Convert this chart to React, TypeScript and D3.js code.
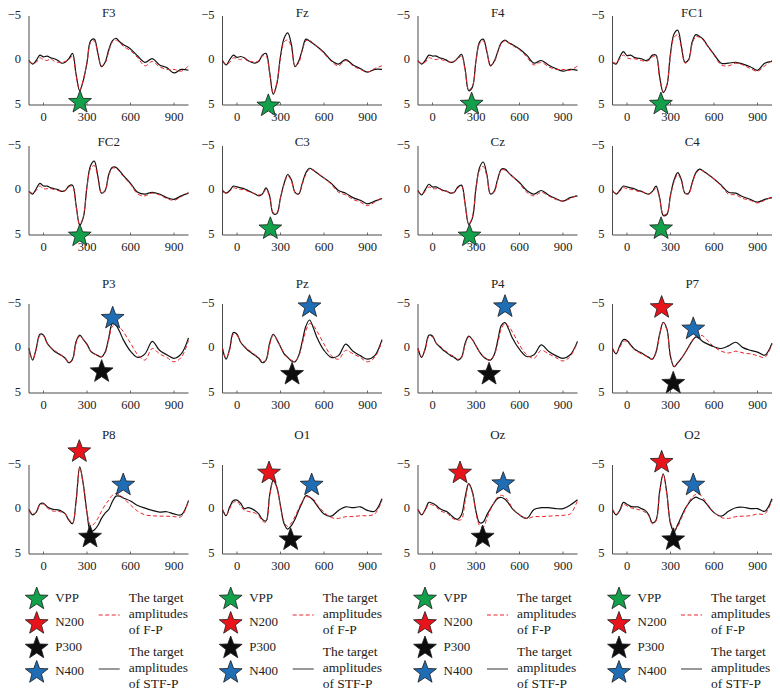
import React from 'react';
import * as d3 from 'd3';

const TIMES = [-100,-75,-50,-25,0,25,50,75,100,125,150,175,200,225,250,275,300,325,350,375,400,425,450,475,500,525,550,600,650,700,750,800,850,900,950,1000];
const CHANNELS = ['F3','Fz','F4','FC1','FC2','C3','Cz','C4','P3','Pz','P4','P7','P8','O1','Oz','O2'];
const X_TICKS = [0, 300, 600, 900];
const Y_TICKS = [-5, 0, 5];
const COMPONENTS = ['VPP', 'N200', 'P300', 'N400'];
const COMPONENT_COLORS = ['#12a04b', '#e8141b', '#0d0d0d', '#1e6db5'];
const LEGEND_FP = ['The target', 'amplitudes', 'of F-P'];
const LEGEND_STF = ['The target', 'amplitudes', 'of STF-P'];

// STF-P (black solid) and F-P (red dashed) target amplitudes, µV
const F3_STF = [0.0,0.4,0.0,-0.6,-0.4,-0.5,-0.3,-0.2,0.0,0.3,0.2,-0.2,-0.8,1.6,3.4,2.2,0.2,-2.2,-2.4,-0.8,0.7,0.2,-1.2,-2.2,-2.5,-2.1,-1.8,-1.3,-0.5,0.2,-0.2,0.5,0.8,1.4,1.0,1.1];
const F3_FP = [0.1,0.3,0.2,-0.3,-0.1,0.0,-0.2,0.1,0.2,0.2,0.1,-0.1,-0.5,1.7,3.3,2.1,0.3,-2.0,-2.2,-0.8,0.6,0.3,-1.0,-2.1,-2.3,-2.0,-1.6,-1.1,-0.3,0.6,0.1,0.7,1.0,1.0,1.2,0.6];
const FZ_STF = [0.0,0.5,-0.1,-0.6,-0.35,-0.45,-0.3,0.0,0.2,0.3,0.1,-0.6,-0.8,1.3,3.8,2.6,-0.5,-2.5,-3.1,-1.8,0.7,0.1,-1.2,-2.4,-2.2,-1.9,-1.6,-0.9,0.0,0.4,-0.1,0.5,0.9,1.3,1.0,1.0];
const FZ_FP = [0.1,0.4,0.2,-0.3,-0.2,-0.1,-0.3,0.1,0.1,0.2,0.0,-0.5,-0.5,1.4,3.7,2.5,-0.3,-2.1,-2.3,-1.5,0.6,0.3,-1.1,-2.2,-2.3,-1.9,-1.6,-0.8,0.1,0.6,0.0,0.6,1.0,1.3,0.9,0.6];
const F4_STF = [0.0,0.4,0.0,-0.6,-0.5,-0.5,-0.3,-0.2,0.0,0.2,0.1,-0.3,-0.7,1.0,3.4,3.0,0.0,-2.1,-2.4,-1.0,0.6,0.1,-1.0,-2.0,-2.3,-2.0,-1.8,-1.3,-0.6,0.3,0.0,0.5,0.9,1.2,1.0,1.1];
const F4_FP = [0.1,0.3,0.2,-0.3,-0.2,-0.1,-0.2,0.0,0.1,0.2,0.1,-0.2,-0.5,1.1,3.3,2.9,0.1,-1.9,-2.2,-1.0,0.5,0.2,-0.9,-1.9,-2.2,-2.0,-1.7,-1.2,-0.4,0.5,0.2,0.7,1.0,1.0,1.1,0.6];
const FC1_STF = [0.2,0.4,-0.4,-1.0,-0.55,-0.6,-0.35,-0.25,-0.2,0.0,-0.1,-0.6,-0.6,1.8,3.6,2.8,-0.8,-3.0,-3.4,-1.6,0.2,-0.1,-2.1,-2.9,-2.7,-2.4,-1.8,-0.7,0.3,0.3,0.2,0.4,0.7,1.1,0.3,0.1];
const FC1_FP = [0.2,0.3,-0.2,-0.6,-0.3,-0.2,-0.2,-0.1,0.0,0.1,0.0,-0.4,-0.5,1.9,3.5,2.7,-0.6,-2.6,-2.9,-1.5,0.3,0.0,-1.9,-2.7,-2.6,-2.3,-1.7,-0.6,0.5,0.6,0.3,0.5,0.9,1.2,0.6,0.0];
const FC2_STF = [0.1,0.4,-0.2,-0.8,-0.5,-0.5,-0.3,-0.2,-0.1,0.1,0.0,-0.5,-0.6,1.7,3.9,3.0,-0.5,-2.8,-3.3,-1.6,0.3,0.0,-1.8,-2.6,-2.6,-2.2,-1.7,-0.8,0.2,0.4,0.2,0.4,0.8,1.0,0.6,0.3];
const FC2_FP = [0.1,0.3,0.0,-0.5,-0.2,-0.2,-0.2,-0.1,0.0,0.1,0.0,-0.4,-0.5,1.8,3.8,2.9,-0.4,-2.5,-2.8,-1.5,0.3,0.1,-1.7,-2.5,-2.5,-2.1,-1.6,-0.7,0.4,0.6,0.3,0.5,0.9,1.1,0.7,0.2];
const C3_STF = [0.0,0.3,0.0,-0.5,-0.4,-0.3,-0.2,0.0,0.2,0.4,0.6,0.4,-0.3,0.6,2.6,2.6,0.8,-0.8,-1.8,-1.2,0.2,0.4,-0.8,-2.0,-2.5,-2.3,-2.0,-1.4,-0.8,0.0,0.3,0.8,1.1,1.5,1.2,0.9];
const C3_FP = [0.1,0.3,0.1,-0.3,-0.2,-0.1,-0.1,0.1,0.2,0.4,0.5,0.4,-0.1,0.7,2.5,2.5,0.8,-0.7,-1.6,-1.1,0.2,0.4,-0.7,-1.8,-2.4,-2.3,-2.0,-1.4,-0.7,0.2,0.5,1.0,1.3,1.7,1.3,0.8];
const CZ_STF = [0.0,0.5,-0.1,-0.7,-0.4,-0.4,-0.2,0.0,0.1,0.3,0.2,-0.4,-0.6,1.5,3.8,3.1,-0.3,-2.6,-3.2,-1.8,0.4,0.1,-1.3,-2.4,-2.4,-2.0,-1.6,-0.9,0.0,0.4,0.0,0.5,0.9,1.2,0.8,0.6];
const CZ_FP = [0.1,0.4,0.1,-0.4,-0.2,-0.2,-0.2,0.1,0.1,0.3,0.2,-0.3,-0.5,1.6,3.7,3.0,-0.2,-2.3,-2.7,-1.6,0.4,0.2,-1.2,-2.3,-2.3,-2.0,-1.6,-0.8,0.2,0.6,0.2,0.6,1.0,1.2,0.9,0.5];
const C4_STF = [0.0,0.4,0.0,-0.5,-0.4,-0.3,-0.2,0.0,0.1,0.3,0.4,0.1,-0.5,0.8,2.8,2.7,0.5,-1.2,-2.0,-1.2,0.3,0.3,-0.9,-2.0,-2.4,-2.2,-1.9,-1.3,-0.6,0.2,0.3,0.7,1.0,1.3,1.0,0.8];
const C4_FP = [0.1,0.3,0.1,-0.3,-0.2,-0.1,-0.1,0.1,0.1,0.3,0.4,0.2,-0.3,0.9,2.7,2.6,0.6,-1.0,-1.8,-1.1,0.3,0.4,-0.8,-1.9,-2.3,-2.2,-1.9,-1.3,-0.5,0.4,0.5,0.9,1.1,1.4,1.1,0.7];
const P3_STF = [0.0,1.3,0.0,-1.6,-1.5,-0.6,-0.1,0.3,0.55,0.8,1.1,1.6,1.2,-0.8,-1.5,-1.0,-0.5,0.3,0.6,0.8,0.95,0.4,-1.2,-2.8,-2.6,-1.9,-1.0,0.3,1.0,0.6,-0.8,0.2,0.7,1.1,0.6,-1.2];
const P3_FP = [0.0,1.2,0.1,-1.4,-1.4,-0.6,-0.1,0.2,0.5,0.8,1.1,1.6,1.3,-0.6,-1.4,-1.0,-0.4,0.3,0.6,0.8,0.9,0.5,-1.0,-2.5,-2.7,-2.4,-1.9,-0.6,0.7,1.3,0.0,0.6,1.0,1.5,1.0,-0.9];
const PZ_STF = [0.0,1.2,0.0,-1.8,-1.6,-0.7,-0.2,0.2,0.5,0.8,1.1,1.6,1.3,-0.6,-1.6,-1.0,-0.2,0.6,1.0,1.4,1.5,0.8,-0.8,-2.5,-3.2,-2.4,-1.3,0.2,1.0,0.8,-0.5,0.3,0.8,1.2,0.8,-1.0];
const PZ_FP = [0.0,1.1,0.1,-1.6,-1.5,-0.7,-0.3,0.1,0.4,0.7,1.0,1.5,1.3,-0.4,-1.5,-1.0,-0.2,0.5,1.0,1.3,1.4,0.9,-0.5,-2.0,-2.8,-2.6,-2.0,-0.5,0.8,1.2,0.2,0.6,1.0,1.5,1.0,-0.8];
const P4_STF = [0.0,1.0,0.0,-1.5,-1.4,-0.6,-0.2,0.2,0.5,0.8,1.0,1.3,1.0,-0.6,-1.4,-1.0,-0.3,0.4,0.9,1.2,1.3,0.7,-0.9,-2.6,-2.9,-2.2,-1.2,0.1,0.9,0.7,-0.4,0.3,0.8,1.1,0.7,-0.8];
const P4_FP = [0.0,0.9,0.1,-1.3,-1.3,-0.6,-0.3,0.1,0.4,0.7,0.9,1.2,1.0,-0.4,-1.3,-1.0,-0.3,0.4,0.9,1.2,1.3,0.8,-0.6,-2.2,-2.8,-2.5,-1.9,-0.4,0.7,1.1,0.2,0.6,1.0,1.4,0.9,-0.7];
const P7_STF = [0.0,0.6,-0.3,-1.0,-0.9,-0.4,0.05,0.3,0.5,0.75,1.0,1.2,0.4,-1.6,-2.95,-2.2,0.9,2.05,1.6,1.1,0.5,-0.2,-0.85,-1.3,-1.1,-0.75,-0.55,-0.2,0.0,-0.3,-0.7,-0.1,0.2,0.4,0.75,-0.6];
const P7_FP = [0.0,0.5,-0.1,-0.8,-0.8,-0.3,0.1,0.4,0.6,0.8,1.0,1.2,0.5,-1.5,-2.9,-2.1,0.9,2.0,1.6,1.1,0.5,-0.1,-0.9,-1.4,-1.5,-1.4,-1.0,-0.2,0.3,0.5,0.3,0.5,0.6,0.8,1.0,-0.5];
const P8_STF = [0.0,0.6,0.3,-0.6,-0.7,-0.3,-0.1,0.0,0.05,0.2,0.5,1.2,1.6,-1.0,-4.8,-2.8,0.4,2.5,2.3,1.8,1.0,0.4,0.0,-0.9,-1.5,-1.5,-1.3,-0.95,-0.45,-0.15,0.1,0.3,0.25,0.5,0.6,-1.0];
const P8_FP = [0.0,0.5,0.3,-0.5,-0.6,-0.2,0.1,0.2,0.2,0.3,0.5,1.1,1.5,-0.9,-4.7,-2.7,0.3,1.8,1.6,1.0,0.2,-0.5,-1.05,-1.6,-1.8,-1.6,-1.3,-0.5,0.2,0.6,0.7,0.75,0.75,0.8,0.8,-1.0];
const O1_STF = [0.0,0.7,-0.3,-1.0,-1.05,-0.7,-0.1,-0.2,-0.1,0.15,0.5,1.1,1.3,-1.6,-3.3,-2.5,-0.4,1.6,2.2,1.8,1.1,0.1,-0.8,-1.55,-1.4,-1.05,-0.5,0.5,0.75,0.1,-0.3,-0.2,-0.3,0.1,0.2,-1.2];
const O1_FP = [0.0,0.6,-0.1,-0.8,-0.9,-0.4,0.1,0.2,0.3,0.4,0.7,1.3,1.4,-1.4,-3.2,-2.4,-0.3,1.4,1.9,1.5,0.8,-0.1,-0.9,-1.4,-1.4,-1.2,-0.6,0.3,0.9,1.0,0.8,0.8,0.7,0.7,0.5,-1.0];
const OZ_STF = [0.0,0.6,0.0,-0.8,-0.7,-0.45,-0.1,0.1,0.25,0.6,0.95,1.1,0.6,-1.4,-2.9,-2.0,0.2,1.5,1.4,0.6,-0.1,-0.75,-1.25,-1.35,-1.15,-0.7,-0.1,0.6,1.0,0.0,-0.2,-0.2,-0.1,-0.1,-0.5,-1.1];
const OZ_FP = [0.0,0.5,0.1,-0.6,-0.5,-0.3,0.1,0.3,0.4,0.8,1.1,1.2,1.1,-0.9,-2.8,-1.9,0.4,1.8,2.0,1.0,0.0,-0.8,-1.4,-1.6,-1.4,-0.9,-0.2,0.6,1.0,0.8,0.8,0.75,0.7,0.65,0.5,-1.0];
const O2_STF = [0.0,0.6,0.1,-0.8,-0.6,-0.35,-0.3,-0.3,-0.1,0.1,0.6,1.5,1.2,-2.0,-4.0,-1.8,1.6,2.5,1.7,0.8,-0.05,-0.7,-1.15,-1.4,-1.2,-1.05,-0.6,0.35,0.75,0.2,-0.2,-0.25,-0.1,-0.1,0.2,-1.2];
const O2_FP = [0.0,0.5,0.2,-0.6,-0.4,-0.2,-0.1,0.0,0.1,0.3,0.7,1.6,1.3,-1.8,-3.9,-1.7,1.4,2.2,1.9,1.0,0.1,-0.8,-1.4,-1.7,-1.7,-1.3,-0.7,0.3,0.9,1.0,0.8,0.75,0.7,0.5,0.5,-1.0];

// marked components: [component, time (ms), amplitude (µV)]
const F3_MARKS = [['VPP', 252, 4.7]];
const FZ_MARKS = [['VPP', 216, 5.1]];
const F4_MARKS = [['VPP', 270, 4.9]];
const FC1_MARKS = [['VPP', 234, 4.9]];
const FC2_MARKS = [['VPP', 250, 5.1]];
const C3_MARKS = [['VPP', 230, 4.3]];
const CZ_MARKS = [['VPP', 255, 5.1]];
const C4_MARKS = [['VPP', 235, 4.3]];
const P3_MARKS = [['N400', 477, -3.4], ['P300', 401, 2.6]];
const PZ_MARKS = [['N400', 500, -4.7], ['P300', 380, 2.9]];
const P4_MARKS = [['N400', 500, -4.7], ['P300', 390, 2.9]];
const P7_MARKS = [['N200', 239, -4.6], ['N400', 457, -2.2], ['P300', 319, 3.9]];
const P8_MARKS = [['N200', 247, -6.5], ['N400', 550, -2.75], ['P300', 321, 3.1]];
const O1_MARKS = [['N200', 221, -4.1], ['N400', 515, -2.75], ['P300', 370, 3.4]];
const OZ_MARKS = [['N200', 190, -4.1], ['N400', 488, -2.9], ['P300', 346, 3.1]];
const O2_MARKS = [['N200', 239, -5.3], ['N400', 457, -2.75], ['P300', 319, 3.4]];

const STF = [F3_STF, FZ_STF, F4_STF, FC1_STF, FC2_STF, C3_STF, CZ_STF, C4_STF, P3_STF, PZ_STF, P4_STF, P7_STF, P8_STF, O1_STF, OZ_STF, O2_STF];
const FP = [F3_FP, FZ_FP, F4_FP, FC1_FP, FC2_FP, C3_FP, CZ_FP, C4_FP, P3_FP, PZ_FP, P4_FP, P7_FP, P8_FP, O1_FP, OZ_FP, O2_FP];
const MARKS = [F3_MARKS, FZ_MARKS, F4_MARKS, FC1_MARKS, FC2_MARKS, C3_MARKS, CZ_MARKS, C4_MARKS, P3_MARKS, PZ_MARKS, P4_MARKS, P7_MARKS, P8_MARKS, O1_MARKS, OZ_MARKS, O2_MARKS];

// layout
const W = 780, H = 698;
const COL_X = [29, 222.5, 418, 612.5];
const PLOT_W = 159.5;
const ROW_TOP = [16, 146, 304, 465];
const PLOT_H = 89;
const TITLE_Y = [14, 143, 285, 436];
const FONT = '"Liberation Serif", "DejaVu Serif", serif';
const AXIS_COLOR = '#4a4a4a';
const RED = '#e8262a';

function starPath(R: number, r: number) {
  const pts: [number, number][] = d3.range(10).map(i => {
    const a = -Math.PI / 2 + i * Math.PI / 5;
    const rad = i % 2 === 0 ? R : r;
    return [rad * Math.cos(a), rad * Math.sin(a)];
  });
  return (d3.line()(pts) || '') + 'Z';
}
const STAR = starPath(12, 5);

function Star({ x, y, color }: { x: number; y: number; color: string }) {
  return <path d={STAR} transform={`translate(${x},${y})`} fill={color} stroke="#1a1a1a" strokeWidth={0.8} strokeLinejoin="miter" />;
}

function Panel({ idx }: { idx: number }) {
  const col = idx % 4, row = Math.floor(idx / 4);
  const x0 = COL_X[col], y0 = ROW_TOP[row];
  const x = d3.scaleLinear().domain([-100, 1000]).range([x0, x0 + PLOT_W]);
  const y = d3.scaleLinear().domain([-5, 5]).range([y0, y0 + PLOT_H]);
  const line = d3.line<number>().x((_, i) => x(TIMES[i])).y(v => y(v)).curve(d3.curveCatmullRom.alpha(0.5));
  const yb = y(5);
  return (
    <g>
      <text x={x0 + PLOT_W / 2} y={TITLE_Y[row]} textAnchor="middle" dominantBaseline="middle" fontSize={13} fontFamily={FONT} fill="#222">{CHANNELS[idx]}</text>
      <line x1={x0} x2={x0} y1={y(-5)} y2={yb} stroke={AXIS_COLOR} strokeWidth={1} />
      <line x1={x0} x2={x0 + PLOT_W} y1={yb} y2={yb} stroke={AXIS_COLOR} strokeWidth={1} />
      {X_TICKS.map(t => (
        <g key={t}>
          <line x1={x(t)} x2={x(t)} y1={yb} y2={yb - 2.5} stroke={AXIS_COLOR} strokeWidth={0.8} />
          <text x={x(t)} y={yb + 13} textAnchor="middle" dominantBaseline="middle" fontSize={12.5} fontFamily={FONT} fill="#222">{t}</text>
        </g>
      ))}
      {Y_TICKS.map(v => (
        <text key={v} x={x0 - 8} y={y(v)} textAnchor="end" dominantBaseline="middle" fontSize={12.5} fontFamily={FONT} fill="#222">{v < 0 ? '\u2212' + Math.abs(v) : String(v)}</text>
      ))}
      <path d={line(STF[idx]) || ''} fill="none" stroke="#111" strokeWidth={1.2} />
      <path d={line(FP[idx]) || ''} fill="none" stroke={RED} strokeWidth={1} strokeDasharray="4,2.5" />
      {MARKS[idx].map((m, i) => (
        <Star key={i} x={x(m[1] as number)} y={y(m[2] as number)} color={COMPONENT_COLORS[COMPONENTS.indexOf(m[0] as string)]} />
      ))}
    </g>
  );
}

const LEG_X = [36.7, 230.7, 425, 619];
const LEG_STAR_Y = [599, 623.5, 648, 672.5];
const LEG_FP_Y = [599, 615, 631];
const LEG_STF_Y = [653, 669, 685];

function Legend({ x }: { x: number }) {
  return (
    <g>
      {COMPONENTS.map((c, i) => (
        <g key={c}>
          <Star x={x} y={LEG_STAR_Y[i]} color={COMPONENT_COLORS[i]} />
          <text x={x + 18.5} y={LEG_STAR_Y[i]} dominantBaseline="middle" fontSize={13} fontFamily={FONT} fill="#222">{c}</text>
        </g>
      ))}
      <line x1={x + 62} x2={x + 83} y1={LEG_FP_Y[1]} y2={LEG_FP_Y[1]} stroke={RED} strokeWidth={1} strokeDasharray="4,2.5" />
      {LEGEND_FP.map((s, i) => (
        <text key={i} x={x + 92} y={LEG_FP_Y[i]} dominantBaseline="middle" fontSize={13.5} fontFamily={FONT} fill="#222">{s}</text>
      ))}
      <line x1={x + 62} x2={x + 83} y1={LEG_STF_Y[1]} y2={LEG_STF_Y[1]} stroke="#333" strokeWidth={1} />
      {LEGEND_STF.map((s, i) => (
        <text key={i} x={x + 92} y={LEG_STF_Y[i]} dominantBaseline="middle" fontSize={13.5} fontFamily={FONT} fill="#222">{s}</text>
      ))}
    </g>
  );
}

export default function App() {
  return (
    <svg width={W} height={H} viewBox={`0 0 ${W} ${H}`} style={{ position: 'absolute', left: 0, top: 0, background: '#fff' }}>
      <rect width={W} height={H} fill="#fff" />
      {CHANNELS.map((_, i) => <Panel key={i} idx={i} />)}
      {LEG_X.map((lx, i) => <Legend key={i} x={lx} />)}
    </svg>
  );
}
